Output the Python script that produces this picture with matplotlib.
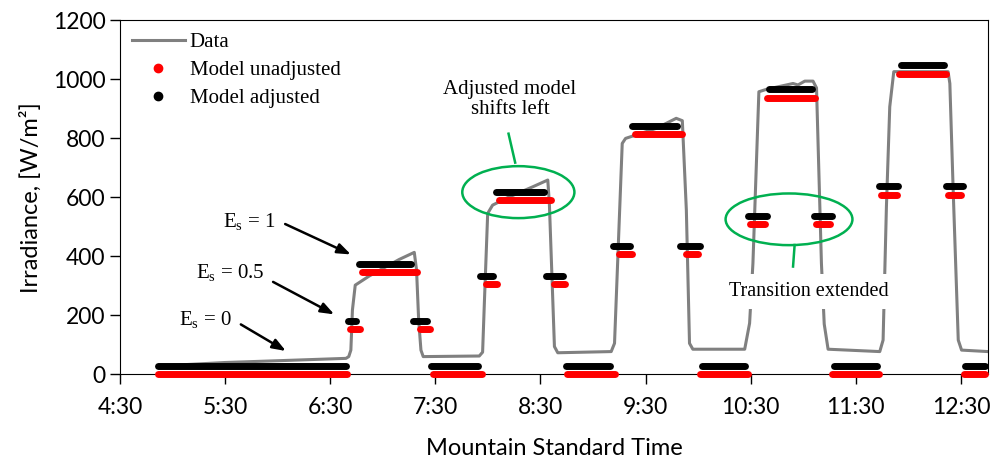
"""Irradiance data vs. step model, adjusted and unadjusted."""
import matplotlib
matplotlib.use("Agg")
import matplotlib.pyplot as plt
from matplotlib.patches import Ellipse
from matplotlib.lines import Line2D

# measured irradiance (time in minutes after midnight, W/m2)
data_time = [292, 330, 360, 399, 400.6, 401.8, 402.7, 404.3, 412.3, 429.4, 438,
             439.3, 440.5, 441.8, 443.1, 475.1, 477, 478, 479.9, 482.7, 490.4,
             505.6, 514.2, 515.1, 518, 519.9, 550.4, 552.3, 556.7, 558.6, 576.1,
             587.5, 591, 593.3, 595.1, 597, 626.6, 629.4, 631.3, 634.7, 638.9,
             654.2, 657, 660.9, 665.6, 667.6, 670.4, 672, 674.2, 703.7, 705.6,
             707.5, 709.4, 711.7, 742.7, 743.7, 745.6, 748.5, 750.4, 765.4]
data_irr = [28, 40, 46, 54, 60, 82, 218, 302, 333, 389, 413,
            353, 184, 82, 60, 62, 75, 241, 545, 573, 596,
            635, 658, 580, 94, 73, 77, 105, 782, 799, 833,
            867, 859, 556, 105, 85, 85, 173, 376, 957, 965,
            985, 980, 993, 993, 970, 376, 170, 85, 77, 116,
            568, 906, 1025, 1025, 985, 624, 116, 82, 77]

# model adjusted: step start, step end (minutes) and level
adj_start = [292, 400.4, 406.3, 437.5, 447.6, 475.6, 484.4, 513.3, 524.4, 551.4,
             562.5, 589.5, 602.5, 628.6, 640.4, 666.3, 677.5, 703.4, 715.6,
             741.5, 752.6]
adj_end = [399, 404.6, 436, 445.5, 474.1, 482.7, 511.8, 523, 549.7, 561.1,
           588, 601.1, 627, 639.3, 665.1, 676.4, 702.1, 714.1, 740.2,
           751.3, 763.5]
adj_level = [28, 180, 373, 180, 28, 333, 617, 334, 28, 435,
             842, 435, 28, 536, 965, 536, 28, 639, 1046, 639, 28]

# model unadjusted
unadj_start = [292, 401.1, 408.2, 441.3, 448.6, 478.7, 486.3, 517.5, 525.3,
               554.9, 563.8, 593, 601.3, 629.5, 639.4, 667.3, 676.6, 704.4,
               714.5, 742.5, 752]
unadj_end = [399.8, 406.9, 439.8, 446.9, 476.6, 485, 516.2, 524.2, 552.7,
             562.1, 590.9, 600.2, 628.4, 638.3, 666.5, 675.4, 703.3, 713.5,
             741.3, 750.3, 763.5]
unadj_level = [0, 152, 345, 152, 0, 305, 589, 305, 0, 407,
               814, 407, 0, 508, 937, 508, 0, 609, 1017, 609, 0]

tick_times = [270, 330, 390, 450, 510, 570, 630, 690, 750]
tick_labels = ["4:30", "5:30", "6:30", "7:30", "8:30", "9:30", "10:30", "11:30", "12:30"]

GREEN = "#00b050"
SERIF = "Liberation Serif"
SANS = "Lato"

plt.rcParams["mathtext.fontset"] = "custom"
plt.rcParams["mathtext.rm"] = SERIF

fig = plt.figure(figsize=(9.93, 4.62), dpi=100)
ax = fig.add_axes([0.1208, 0.1898, 0.8742, 0.7669])

ax.plot(data_time, data_irr, color="#808080", lw=2.2, zorder=2,
        solid_joinstyle="round")

for s, e, v in zip(unadj_start, unadj_end, unadj_level):
    ax.plot([s, e], [v, v], color="#ff0000", lw=5, solid_capstyle="round",
            clip_on=False, zorder=3)
for s, e, v in zip(adj_start, adj_end, adj_level):
    ax.plot([s, e], [v, v], color="black", lw=5, solid_capstyle="round",
            clip_on=False, zorder=3)

# annotations
arrow = dict(arrowstyle="-|>,head_length=0.8,head_width=0.3", color="black", lw=1.8,
             shrinkA=0, shrinkB=0)
ax.annotate("", xy=(401.8, 406), xytext=(364.3, 509), arrowprops=arrow)
ax.annotate("", xy=(392.3, 203), xytext=(357.4, 313), arrowprops=arrow)
ax.annotate("", xy=(364.7, 79), xytext=(339, 169), arrowprops=arrow)
ax.text(343.7, 519, r"$\mathregular{E_s}$ = 1", family=SERIF, fontsize=15,
        ha="center", va="center")
ax.text(333.1, 344, r"$\mathregular{E_s}$ = 0.5", family=SERIF, fontsize=15,
        ha="center", va="center")
ax.text(318.9, 184, r"$\mathregular{E_s}$ = 0", family=SERIF, fontsize=15,
        ha="center", va="center")

ax.add_patch(Ellipse((497.4, 617), 64, 176, fill=False, edgecolor=GREEN, lw=1.8, zorder=4))
ax.add_patch(Ellipse((651.9, 525), 72.4, 175, fill=False, edgecolor=GREEN, lw=1.8, zorder=4))
ax.plot([491.8, 495.6], [815, 717], color=GREEN, lw=1.8, zorder=4)
ax.plot([655.1, 654.2], [438, 365], color=GREEN, lw=1.8, zorder=4)
ax.text(492.6, 930, "Adjusted model\nshifts left", family=SERIF, fontsize=15,
        ha="center", va="center", linespacing=1.1)
ax.text(663.1, 280, "Transition extended", family=SERIF, fontsize=14.5,
        ha="center", va="center", zorder=5,
        bbox=dict(facecolor="white", edgecolor="none", pad=6))

ax.set_xlim(270, 765.5)
ax.set_ylim(0, 1200)
ax.set_xticks(tick_times)
ax.set_xticklabels(tick_labels)
ax.set_yticks(range(0, 1201, 200))
for lab in ax.get_xticklabels() + ax.get_yticklabels():
    lab.set_family(SANS)
    lab.set_fontsize(16.5)
ax.tick_params(direction="out", length=7, width=1)
ax.tick_params(axis="x", pad=9)
ax.set_xlabel("Mountain Standard Time", family=SANS, fontsize=17, labelpad=15)
ax.set_ylabel("Irradiance, [W/m²]", family=SANS, fontsize=17, labelpad=8)

handles = [
    Line2D([], [], color="#808080", lw=2.2),
    Line2D([], [], color="#ff0000", marker="o", ls="", ms=6),
    Line2D([], [], color="black", marker="o", ls="", ms=6),
]
ax.legend(handles, ["Data", "Model unadjusted", "Model adjusted"], loc="upper left",
          frameon=False, prop={"family": SERIF, "size": 15}, handlelength=2.5,
          handletextpad=0.25, labelspacing=0.4, borderaxespad=0.2)

fig.savefig("out.png", dpi=100)
